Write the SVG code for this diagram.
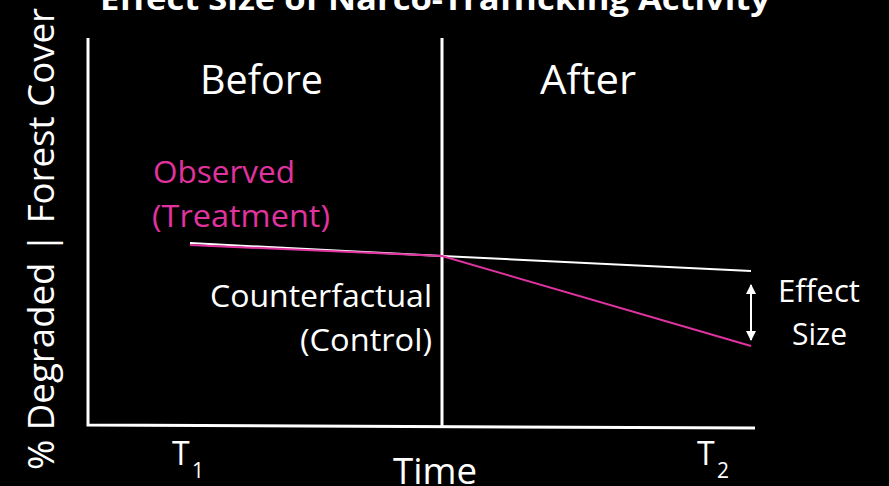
<svg xmlns="http://www.w3.org/2000/svg" width="889" height="486" viewBox="0 0 889 486">
<style>
text{font-family:"Open Sans","Noto Sans","Liberation Sans",sans-serif;fill:#fff}
.big{font-size:40px}
.mid{font-size:31px}
.pink{fill:#E0339F}
.ax{stroke:#fff;stroke-width:3;fill:none}
</style>
<defs>
<marker id="ah" viewBox="0 0 10 10" refX="9" refY="5" markerWidth="5" markerHeight="5" orient="auto-start-reverse"><path d="M0,0 L10,5 L0,10 z" fill="#fff"/></marker>
</defs>
<rect width="889" height="486" fill="#000"/>
<g id="title"><text x="100" y="10" font-size="31" font-weight="bold" textLength="670" lengthAdjust="spacingAndGlyphs">Effect Size of Narco-Trafficking Activity</text></g>
<g id="axes">
<path class="ax" d="M88,38 V425 L755,428"/>
<path class="ax" d="M442,38 V426"/>
</g>
<g id="ylabel"><text transform="translate(54,239) rotate(-90)" font-size="36" text-anchor="middle" textLength="462" lengthAdjust="spacingAndGlyphs">% Degraded | Forest Cover</text></g>
<g id="before"><text class="big" x="200" y="94" textLength="123" lengthAdjust="spacingAndGlyphs">Before</text></g>
<g id="after"><text class="big" x="540" y="94" textLength="96" lengthAdjust="spacingAndGlyphs">After</text></g>
<g id="observed"><text class="mid pink" x="153" y="183" textLength="142" lengthAdjust="spacingAndGlyphs">Observed</text><text class="mid pink" x="152" y="227" textLength="178" lengthAdjust="spacingAndGlyphs">(Treatment)</text></g>
<g id="counterfactual"><text class="mid" x="210" y="307" textLength="222" lengthAdjust="spacingAndGlyphs">Counterfactual</text><text class="mid" x="300" y="351" textLength="132" lengthAdjust="spacingAndGlyphs">(Control)</text></g>
<g id="effect"><text class="mid" x="778" y="302" textLength="82" lengthAdjust="spacingAndGlyphs">Effect</text><text class="mid" x="792" y="345" textLength="55" lengthAdjust="spacingAndGlyphs">Size</text></g>
<g id="time"><text x="393" y="484" font-size="37" textLength="84" lengthAdjust="spacingAndGlyphs">Time</text></g>
<g id="t1"><text x="172" y="465" font-size="32">T</text><text x="192" y="478" font-size="21">1</text></g>
<g id="t2"><text x="697" y="465" font-size="32">T</text><text x="717" y="478" font-size="21">2</text></g>
<g id="connectors">
<path d="M190,243 L442,256 L751,271" stroke="#fff" stroke-width="2" fill="none"/>
<path d="M190,245 L442,256 L751,346" stroke="#E0339F" stroke-width="2" fill="none"/>
<path d="M751,285 V340" stroke="#fff" stroke-width="2" marker-start="url(#ah)" marker-end="url(#ah)"/>
</g>
</svg>
